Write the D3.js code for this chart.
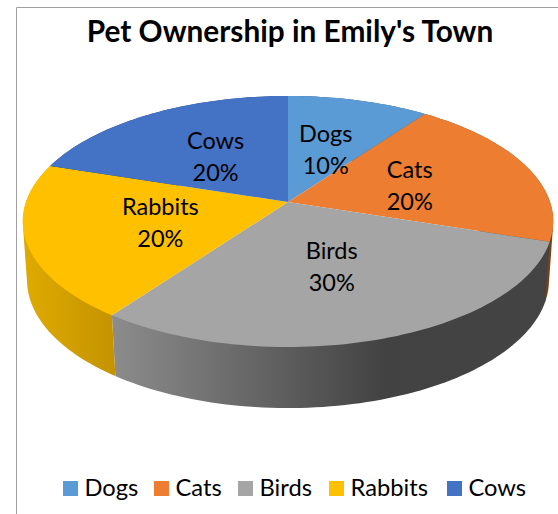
<!DOCTYPE html>
<html>
<head>
<meta charset="utf-8">
<script src="https://cdn.jsdelivr.net/npm/d3@7"></script>
<style>
html,body{margin:0;padding:0;background:#fff;overflow:hidden}
svg{display:block}
text{font-family:Lato,"Open Sans",sans-serif;fill:#000}
</style>
</head>
<body>
<svg width="558" height="514"></svg>
<script>
var categories = ["Dogs", "Cats", "Birds", "Rabbits", "Cows"];
var values = [10, 20, 30, 20, 20];
var labels = ["10%", "20%", "30%", "20%", "20%"];
var colors = ["#5B9BD5", "#ED7D31", "#A5A5A5", "#FFC000", "#4472C4"];
var legendX = [63, 154, 238, 329, 447];

var svg = d3.select("svg");

// chart frame, only left and top show in the picture
svg.append("path")
	.attr("d", "M16.5,514V7.5H558")
	.attr("fill", "none")
	.attr("stroke", "#a0a0a0")
	.attr("stroke-width", 1);

svg.append("text")
	.attr("x", 290)
	.attr("y", 42)
	.attr("text-anchor", "middle")
	.style("font-size", "29.8px")
	.style("font-weight", "bold")
	.text("Pet Ownership in Emily's Town");

// tilted disc: circle seen in perspective, top face and bottom face
var topFace = {cx: 288, cy: 202, rx: 262, ry: 122.5, tilt: 0.155};
var lowFace = {cx: 288, cy: 261, rx: 258, ry: 125, tilt: 0.15};

function project(face, angle, t) {
	var x = Math.sin(angle) * t;
	var y = -Math.cos(angle) * t;
	var w = 1 - face.tilt * y;
	return [face.cx + face.rx * x / w, face.cy + face.ry * y / w];
}

function rim(face, a0, a1) {
	var n = Math.max(2, Math.ceil(Math.abs(a1 - a0) * 40));
	return d3.range(n + 1).map(function(i) {
		return project(face, a0 + (a1 - a0) * i / n, 1);
	});
}

var pie = d3.pie().sort(null).value(function(d) { return d; });
var slices = pie(values);
var line = d3.line();

var defs = svg.append("defs");
function sideGradient(id, x1, x2, stops) {
	var g = defs.append("linearGradient")
		.attr("id", id)
		.attr("gradientUnits", "userSpaceOnUse")
		.attr("x1", x1).attr("x2", x2)
		.attr("y1", 0).attr("y2", 0);
	stops.forEach(function(s) {
		g.append("stop").attr("offset", s[0]).attr("stop-color", s[1]);
	});
}
sideGradient("sideBirds", 113, 552, [[0, "#8c8c8c"], [0.62, "#424242"], [1, "#444444"]]);
sideGradient("sideRabbits", 22, 116, [[0, "#dfab00"], [1, "#c49300"]]);
var sideFill = ["#2f5d86", "#7d3f14", "url(#sideBirds)", "url(#sideRabbits)", "#2c4a80"];

// walls first, faces on top of them. hull keeps the outer edge straight between the two rims
svg.append("g").selectAll("path")
	.data(slices)
	.enter().append("path")
	.attr("d", function(d) {
		var upper = rim(topFace, d.startAngle, d.endAngle);
		var lower = rim(lowFace, d.endAngle, d.startAngle);
		return line(d3.polygonHull(upper.concat(lower))) + "Z";
	})
	.attr("fill", function(d, i) { return sideFill[i]; });

svg.append("g").selectAll("path")
	.data(slices)
	.enter().append("path")
	.attr("d", function(d) {
		var pts = [[topFace.cx, topFace.cy]].concat(rim(topFace, d.startAngle, d.endAngle));
		return line(pts) + "Z";
	})
	.attr("fill", function(d, i) { return colors[i]; });

var labelG = svg.append("g").selectAll("text")
	.data(slices)
	.enter().append("text")
	.attr("text-anchor", "middle")
	.style("font-size", "23.5px")
	.attr("transform", function(d) {
		var p = project(topFace, (d.startAngle + d.endAngle) / 2, 0.5);
		return "translate(" + p[0] + "," + (p[1] + 2) + ")";
	});
labelG.append("tspan").attr("x", 0).attr("y", -8).text(function(d, i) { return categories[i]; });
labelG.append("tspan").attr("x", 0).attr("y", 24).text(function(d, i) { return labels[i]; });

var legendG = svg.append("g").selectAll("g")
	.data(categories)
	.enter().append("g")
	.attr("transform", function(d, i) { return "translate(" + legendX[i] + ",481)"; });
legendG.append("rect")
	.attr("width", 15)
	.attr("height", 15)
	.attr("fill", function(d, i) { return colors[i]; });
legendG.append("text")
	.attr("x", 21.5)
	.attr("y", 15)
	.style("font-size", "23.7px")
	.text(function(d) { return d; });
</script>
</body>
</html>
